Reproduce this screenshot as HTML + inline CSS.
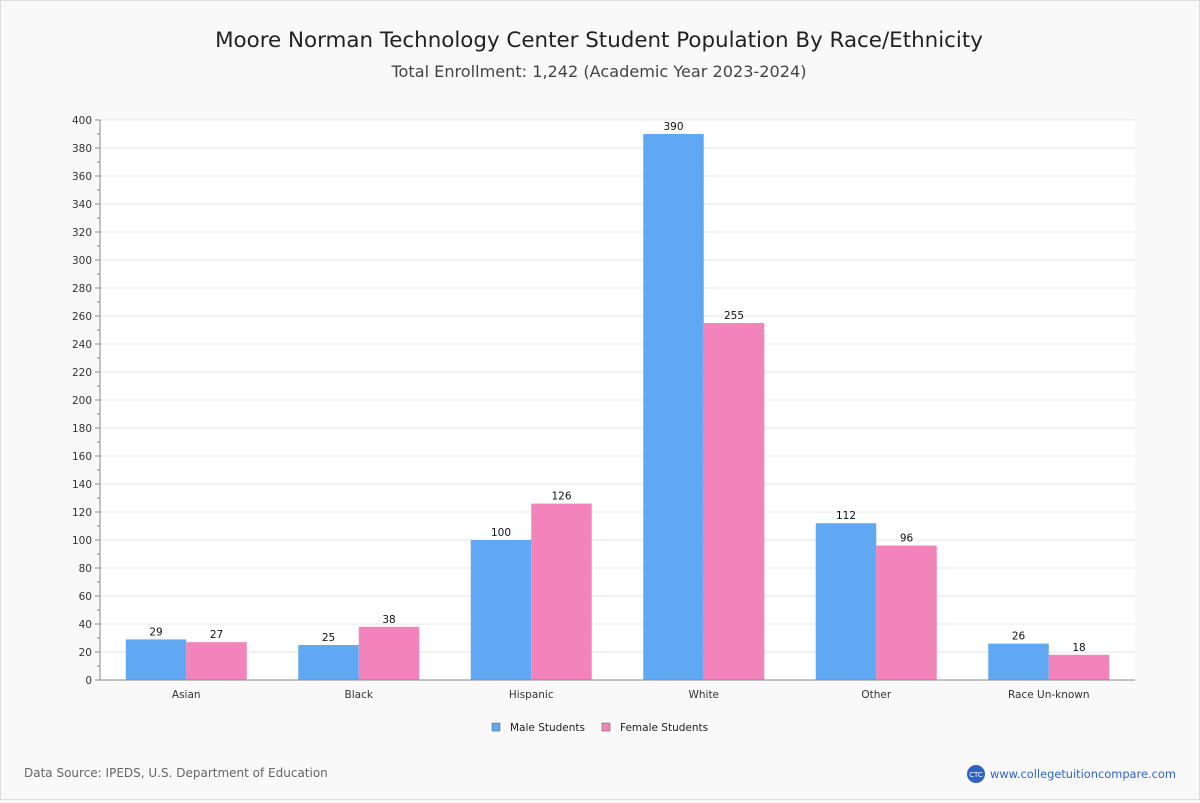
<!DOCTYPE html>
<html><head><meta charset="utf-8"><style>
body{margin:0;background:#f9f9f9;font-family:"DejaVu Sans","Liberation Sans",sans-serif;}
#wrap{position:relative;width:1198px;height:798px;border:1px solid #ddd;background:#f9f9f9;}
</style></head><body>
<div id="wrap">
<svg id="chart" width="1198" height="798" xmlns="http://www.w3.org/2000/svg">
<text x="598" y="46" text-anchor="middle" font-size="21.4" fill="#222">Moore Norman Technology Center Student Population By Race/Ethnicity</text>
<text x="598" y="76" text-anchor="middle" font-size="16.1" fill="#444">Total Enrollment: 1,242 (Academic Year 2023-2024)</text>
<rect x="99" y="119" width="1035" height="560" fill="#fff"/>
<g id="grid"></g><g id="bars"></g><g id="axes"></g>
<g>
<rect x="491" y="722" width="8" height="8" fill="#60a8f4" stroke="#555" stroke-width="0.5"/>
<text x="509" y="730" font-size="10.5" fill="#222">Male Students</text>
<rect x="601" y="722" width="8" height="8" fill="#f283bb" stroke="#555" stroke-width="0.5"/>
<text x="619" y="730" font-size="10.5" fill="#222">Female Students</text>
</g>
<text x="23" y="776" font-size="12" fill="#666">Data Source: IPEDS, U.S. Department of Education</text>
<circle cx="975" cy="773" r="9" fill="#2f62c9"/>
<text x="975" y="776" text-anchor="middle" font-size="7" fill="#fff">CTC</text>
<text x="989" y="777" font-size="11.4" fill="#2f62c9">www.collegetuitioncompare.com</text>
</svg></div>
<script>
const categories=["Asian","Black","Hispanic","White","Other","Race Un-known"];
const maleValues=[29,25,100,390,112,26];
const femaleValues=[27,38,126,255,96,18];
const yTicks=[0,20,40,60,80,100,120,140,160,180,200,220,240,260,280,300,320,340,360,380,400];
const NS="http://www.w3.org/2000/svg";
const L=99,R=1134,T=119,B=679,MAX=400;
const y=v=>B-(v/MAX)*(B-T);
const band=(R-L)/categories.length;
const x=i=>L+band*i+band/2;
function mk(tag,attrs,parent,txt){const e=document.createElementNS(NS,tag);for(const k in attrs)e.setAttribute(k,attrs[k]);if(txt!==undefined)e.textContent=txt;parent.appendChild(e);return e;}
const grid=document.getElementById('grid'),bars=document.getElementById('bars'),axes=document.getElementById('axes');
yTicks.forEach(t=>{
 const g=mk('line',{x1:L,x2:R,y1:y(t),y2:y(t),stroke:'#e4e4e4','stroke-width':1},grid);
 
 
 const lb=mk('text',{x:L-8,y:y(t)+4,'text-anchor':'end','font-size':10.5,fill:'#333'},axes,t);
 
 
 mk('line',{x1:L-5,x2:L,y1:y(t),y2:y(t),stroke:'#888'},axes);
 if(t<MAX){mk('line',{x1:L-3,x2:L,y1:y(t+10),y2:y(t+10),stroke:'#888'},axes);}
});
mk('line',{x1:L,x2:L,y1:T,y2:B,stroke:'#888'},axes);
mk('line',{x1:L,x2:R,y1:B,y2:B,stroke:'#888'},axes);
const bw=60.5;
categories.forEach((c,i)=>{
 const cx=x(i);
 [[maleValues[i],'#60a8f4',cx-bw,'bar-male'],[femaleValues[i],'#f283bb',cx,'bar-female']].forEach(([v,col,bx,nm])=>{
  const r=mk('rect',{x:bx,y:y(v),width:bw,height:B-y(v),fill:col},bars);
  
  
  const t=mk('text',{x:bx+bw/2,y:y(v)-4,'text-anchor':'middle','font-size':10.5,fill:'#111'},bars,v);
  
  
 });
 const cl=mk('text',{x:cx,y:B+18,'text-anchor':'middle','font-size':10.5,fill:'#333'},axes,c);
 
 
});
</script>
</body></html>
